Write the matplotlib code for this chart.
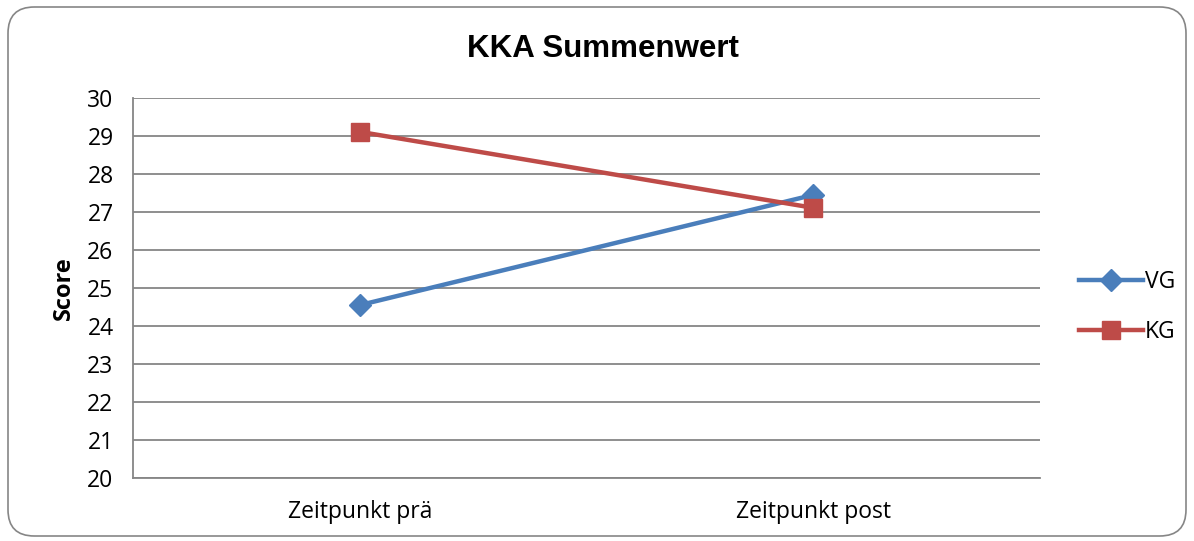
import matplotlib
matplotlib.use("Agg")
import matplotlib.pyplot as plt
from matplotlib.patches import FancyBboxPatch

# data
categories = ["Zeitpunkt prä", "Zeitpunkt post"]
vg_values = [24.55, 27.45]
kg_values = [29.11, 27.11]
y_ticks = list(range(20, 31))

plt.rcParams["font.family"] = ["Open Sans", "DejaVu Sans"]

W, H = 1194, 541
fig = plt.figure(figsize=(W / 100, H / 100), dpi=100)

# rounded outer frame (behind the axes)
frame = FancyBboxPatch((8 / W, 5 / H), (W - 16) / W, (H - 12) / H,
                       boxstyle="round,pad=0,rounding_size=0.022",
                       transform=fig.transFigure, facecolor="white",
                       edgecolor="#868686", linewidth=1.2,
                       mutation_aspect=W / H, zorder=-5)
fig.patches.append(frame)

left, right, top, bottom = 133, 1040, 98, 478
ax = fig.add_axes([left / W, 1 - bottom / H, (right - left) / W, (bottom - top) / H])
ax.set_facecolor("none")

x = [0, 1]
ax.plot(x, vg_values, color="#4A7EBB", linewidth=3.2, marker="D",
        markersize=11, label="VG", zorder=3)
ax.plot(x, kg_values, color="#BE4B48", linewidth=3.2, marker="s",
        markersize=13, label="KG", zorder=3)

ax.set_xlim(-0.5, 1.5)
ax.set_ylim(20, 30)
ax.set_yticks(y_ticks)
ax.set_xticks(x)
ax.set_xticklabels(categories)
ax.grid(axis="y", color="#868686", linewidth=1.3)
ax.set_axisbelow(True)
ax.tick_params(length=0, labelsize=16.5)
ax.tick_params(axis="y", pad=14)
ax.tick_params(axis="x", pad=16)
for s in ["top", "right"]:
    ax.spines[s].set_visible(False)
for s in ["left", "bottom"]:
    ax.spines[s].set_color("#868686")
    ax.spines[s].set_linewidth(1.3)

ax.set_ylabel("Score", fontsize=17, fontweight="bold", labelpad=8)
fig.text(603 / W, 1 - 49 / H, "KKA Summenwert", ha="center", va="center",
         fontsize=22.5, fontweight="bold", family=["Liberation Sans", "DejaVu Sans"])

ax.legend(loc="center left", bbox_to_anchor=(1.02, 0.45), frameon=False,
          fontsize=16.5, handlelength=2.8, labelspacing=1.1, handletextpad=0.1)

fig.savefig("out.png", dpi=100)
